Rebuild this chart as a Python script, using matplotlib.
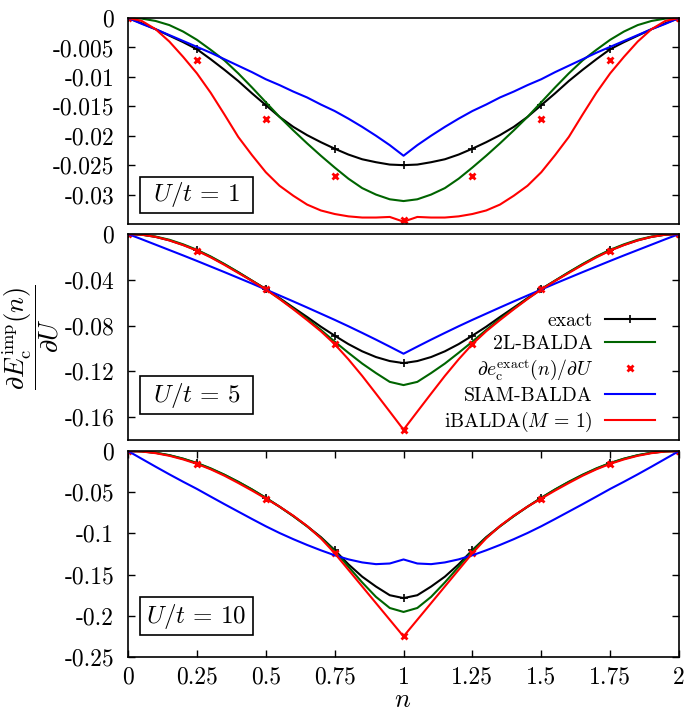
import matplotlib
matplotlib.use('Agg')
import matplotlib.pyplot as plt
from matplotlib.patches import Rectangle
from matplotlib.lines import Line2D
import numpy as np

plt.rcParams['font.family'] = 'cmr10'
plt.rcParams['mathtext.fontset'] = 'cm'
plt.rcParams['axes.unicode_minus'] = False
plt.rcParams['axes.formatter.use_mathtext'] = True
plt.rcParams['font.size'] = 17

# n grid of the curves (0 .. 2, step 0.05) and of the exact points (step 0.25)
n = np.linspace(0, 2, 41)
n_pts = [0, 0.25, 0.5, 0.75, 1, 1.25, 1.5, 1.75, 2]

# U/t = 1
exact1 = [0, -0.0009, -0.0019, -0.0030, -0.0041, -0.0053, -0.0070, -0.0088, -0.0107, -0.0128, -0.0148,
          -0.0168, -0.0185, -0.0199, -0.0211, -0.0222, -0.0232, -0.0240, -0.0245, -0.0249, -0.0250,
          -0.0249, -0.0245, -0.0240, -0.0232, -0.0222, -0.0211, -0.0199, -0.0185, -0.0168, -0.0148,
          -0.0128, -0.0107, -0.0088, -0.0070, -0.0053, -0.0041, -0.0030, -0.0019, -0.0009, 0]
balda2l1 = [0, -0.0001, -0.0005, -0.0012, -0.0023, -0.0037, -0.0054, -0.0072, -0.0094, -0.0118, -0.0143,
            -0.0168, -0.0191, -0.0213, -0.0234, -0.0254, -0.0273, -0.0289, -0.0300, -0.0308, -0.0311,
            -0.0308, -0.0300, -0.0289, -0.0273, -0.0254, -0.0234, -0.0213, -0.0191, -0.0168, -0.0143,
            -0.0118, -0.0094, -0.0072, -0.0054, -0.0037, -0.0023, -0.0012, -0.0005, -0.0001, 0]
siam1 = [0, -0.0010, -0.0019, -0.0029, -0.0039, -0.0049, -0.0059, -0.0070, -0.0081, -0.0092, -0.0104,
         -0.0114, -0.0125, -0.0135, -0.0147, -0.0158, -0.0171, -0.0185, -0.0200, -0.0216, -0.0234,
         -0.0216, -0.0200, -0.0185, -0.0171, -0.0158, -0.0147, -0.0135, -0.0125, -0.0114, -0.0104,
         -0.0092, -0.0081, -0.0070, -0.0059, -0.0049, -0.0039, -0.0029, -0.0019, -0.0010, 0]
ibalda1 = [0, -0.0005, -0.0019, -0.0040, -0.0066, -0.0094, -0.0127, -0.0164, -0.0202, -0.0233, -0.0262,
           -0.0285, -0.0302, -0.0317, -0.0327, -0.0333, -0.0337, -0.0339, -0.0339, -0.0338, -0.0346,
           -0.0338, -0.0339, -0.0339, -0.0337, -0.0333, -0.0327, -0.0317, -0.0302, -0.0285, -0.0262,
           -0.0233, -0.0202, -0.0164, -0.0127, -0.0094, -0.0066, -0.0040, -0.0019, -0.0005, 0]
ec1 = [0, -0.0072, -0.0171, -0.0268, -0.0344, -0.0268, -0.0171, -0.0072, 0]

# U/t = 5
exact5 = [0, -0.0006, -0.0025, -0.0055, -0.0095, -0.0142, -0.0200, -0.0265, -0.0335, -0.0408, -0.0480,
          -0.0560, -0.0643, -0.0725, -0.0810, -0.0888, -0.0962, -0.1025, -0.1075, -0.1110, -0.1128,
          -0.1110, -0.1075, -0.1025, -0.0962, -0.0888, -0.0810, -0.0725, -0.0643, -0.0560, -0.0480,
          -0.0408, -0.0335, -0.0265, -0.0200, -0.0142, -0.0095, -0.0055, -0.0025, -0.0006, 0]
balda2l5 = [0, -0.0005, -0.0022, -0.0050, -0.0090, -0.0138, -0.0196, -0.0262, -0.0333, -0.0407, -0.0482,
            -0.0565, -0.0652, -0.0742, -0.0838, -0.0940, -0.1038, -0.1132, -0.1215, -0.1292, -0.1320,
            -0.1292, -0.1215, -0.1132, -0.1038, -0.0940, -0.0838, -0.0742, -0.0652, -0.0565, -0.0482,
            -0.0407, -0.0333, -0.0262, -0.0196, -0.0138, -0.0090, -0.0050, -0.0022, -0.0005, 0]
siam5 = [0, -0.0046, -0.0093, -0.0140, -0.0187, -0.0235, -0.0284, -0.0333, -0.0383, -0.0433, -0.0485,
         -0.0537, -0.0589, -0.0642, -0.0696, -0.0750, -0.0806, -0.0864, -0.0923, -0.0984, -0.1046,
         -0.0984, -0.0923, -0.0864, -0.0806, -0.0750, -0.0696, -0.0642, -0.0589, -0.0537, -0.0485,
         -0.0433, -0.0383, -0.0333, -0.0284, -0.0235, -0.0187, -0.0140, -0.0093, -0.0046, 0]
ibalda5 = [0, -0.0006, -0.0025, -0.0056, -0.0097, -0.0145, -0.0204, -0.0270, -0.0340, -0.0410, -0.0484,
           -0.0568, -0.0658, -0.0752, -0.0850, -0.0962, -0.1095, -0.1240, -0.1395, -0.1552, -0.1710,
           -0.1552, -0.1395, -0.1240, -0.1095, -0.0962, -0.0850, -0.0752, -0.0658, -0.0568, -0.0484,
           -0.0410, -0.0340, -0.0270, -0.0204, -0.0145, -0.0097, -0.0056, -0.0025, -0.0006, 0]
ec5 = [0, -0.0145, -0.0484, -0.0963, -0.1710, -0.0963, -0.0484, -0.0145, 0]

# U/t = 10
exact10 = [0, -0.0005, -0.0022, -0.0052, -0.0095, -0.0148, -0.0215, -0.0290, -0.0375, -0.0468, -0.0569,
           -0.0676, -0.0790, -0.0912, -0.1045, -0.1202, -0.1375, -0.1525, -0.1645, -0.1750, -0.1785,
           -0.1750, -0.1645, -0.1525, -0.1375, -0.1202, -0.1045, -0.0912, -0.0790, -0.0676, -0.0569,
           -0.0468, -0.0375, -0.0290, -0.0215, -0.0148, -0.0095, -0.0052, -0.0022, -0.0005, 0]
balda2l10 = [0, -0.0004, -0.0020, -0.0050, -0.0092, -0.0145, -0.0210, -0.0287, -0.0373, -0.0466, -0.0567,
             -0.0675, -0.0790, -0.0915, -0.1052, -0.1210, -0.1405, -0.1595, -0.1770, -0.1905, -0.1953,
             -0.1905, -0.1770, -0.1595, -0.1405, -0.1210, -0.1052, -0.0915, -0.0790, -0.0675, -0.0567,
             -0.0466, -0.0373, -0.0287, -0.0210, -0.0145, -0.0092, -0.0050, -0.0020, -0.0004, 0]
siam10 = [0, -0.0095, -0.0190, -0.0283, -0.0373, -0.0460, -0.0553, -0.0645, -0.0735, -0.0825, -0.0913,
          -0.0995, -0.1070, -0.1140, -0.1205, -0.1265, -0.1315, -0.1352, -0.1373, -0.1365, -0.1316,
          -0.1365, -0.1373, -0.1352, -0.1315, -0.1265, -0.1205, -0.1140, -0.1070, -0.0995, -0.0913,
          -0.0825, -0.0735, -0.0645, -0.0553, -0.0460, -0.0373, -0.0283, -0.0190, -0.0095, 0]
ibalda10 = [0, -0.0006, -0.0026, -0.0058, -0.0102, -0.0156, -0.0222, -0.0300, -0.0388, -0.0480, -0.0577,
            -0.0675, -0.0785, -0.0910, -0.1060, -0.1240, -0.1442, -0.1644, -0.1846, -0.2048, -0.2250,
            -0.2048, -0.1846, -0.1644, -0.1442, -0.1240, -0.1060, -0.0910, -0.0785, -0.0675, -0.0577,
            -0.0480, -0.0388, -0.0300, -0.0222, -0.0156, -0.0102, -0.0058, -0.0026, -0.0006, 0]
ec10 = [0, -0.0156, -0.0577, -0.1242, -0.2250, -0.1242, -0.0577, -0.0156, 0]

# ticks
xticks = [0, 0.25, 0.5, 0.75, 1, 1.25, 1.5, 1.75, 2]
xlabels = ['0', '0.25', '0.5', '0.75', '1', '1.25', '1.5', '1.75', '2']
yticks1 = [0, -0.005, -0.01, -0.015, -0.02, -0.025, -0.03]
ylabels1 = ['0', '-0.005', '-0.01', '-0.015', '-0.02', '-0.025', '-0.03']
yticks5 = [0, -0.04, -0.08, -0.12, -0.16]
ylabels5 = ['0', '-0.04', '-0.08', '-0.12', '-0.16']
yticks10 = [0, -0.05, -0.1, -0.15, -0.2, -0.25]
ylabels10 = ['0', '-0.05', '-0.1', '-0.15', '-0.2', '-0.25']

green = '#006400'

fig = plt.figure(figsize=(6.85, 7.15), dpi=100)
left, width, h = 0.1869, 0.8044, 0.2881
ax1 = fig.add_axes([left, 0.6867, width, h])
ax2 = fig.add_axes([left, 0.3846, width, h])
ax3 = fig.add_axes([left, 0.0811, width, h])

panels = [
    (ax1, exact1, balda2l1, ec1, siam1, ibalda1, (-0.035, 0), yticks1, ylabels1, r'$U/t\,=\,1$', (0.053, 0.175), 0.141),
    (ax2, exact5, balda2l5, ec5, siam5, ibalda5, (-0.18, 0), yticks5, ylabels5, r'$U/t\,=\,5$', (0.126, 0.184), 0.218),
    (ax3, exact10, balda2l10, ec10, siam10, ibalda10, (-0.25, 0), yticks10, ylabels10, r'$U/t\,=\,10$', (0.106, 0.184), 0.198),
]

for ax, ex, bl, ec, si, ib, ylim, yt, yl, lab, box, ty in panels:
    ax.plot(n, ex, color='black', lw=1.5, marker='+', ms=6, mew=1.2, markevery=5)
    ax.plot(n, bl, color=green, lw=1.5)
    ax.plot(n_pts, ec, ls='none', marker='x', color='red', ms=5, mew=2)
    ax.plot(n, si, color='blue', lw=1.5)
    ax.plot(n, ib, color='red', lw=1.5)
    ax.set_xlim(0, 2)
    ax.set_ylim(*ylim)
    ax.set_yticks(yt)
    ax.set_yticklabels(yl)
    ax.tick_params(direction='in', right=True, length=5, width=1, pad=10)
    for s in ax.spines.values():
        s.set_linewidth(1.2)
    ax.add_patch(Rectangle((0.0218, box[0]), 0.205, box[1], transform=ax.transAxes,
                           fc='white', ec='black', lw=1.2, zorder=5))
    ax.text(0.124, ty, lab, transform=ax.transAxes, ha='center', va='center', fontsize=18, zorder=6)

for ax in (ax1, ax2):
    ax.set_xticks([])
ax3.set_xticks(xticks)
ax3.set_xticklabels(xlabels)
ax3.tick_params(axis='x', top=True, pad=7)

handles = [
    Line2D([], [], color='black', lw=1.5, marker='+', ms=6, mew=1.2),
    Line2D([], [], color=green, lw=1.5),
    Line2D([], [], ls='none', marker='x', color='red', ms=5, mew=2),
    Line2D([], [], color='blue', lw=1.5),
    Line2D([], [], color='red', lw=1.5),
]
labels = ['exact', '2L-BALDA', r'$\partial e_{\rm c}^{\rm exact}(n)/\partial U$', 'SIAM-BALDA',
          r'iBALDA$(M\,=\,1)$']
ax2.legend(handles, labels, loc='lower right', bbox_to_anchor=(0.956, 0.03), frameon=False,
           markerfirst=False, fontsize=14.2, handlelength=2.5, handletextpad=0.65,
           labelspacing=0.24, borderpad=0, borderaxespad=0)

fig.text(0.045, 0.529, r'$\dfrac{\partial E_{\rm c}^{\rm imp}(n)}{\partial U}$', rotation=90,
         ha='center', va='center', fontsize=19)
fig.text(0.588, 0.021, r'$n$', ha='center', va='center', fontsize=19)

fig.savefig('out.png', dpi=100)
